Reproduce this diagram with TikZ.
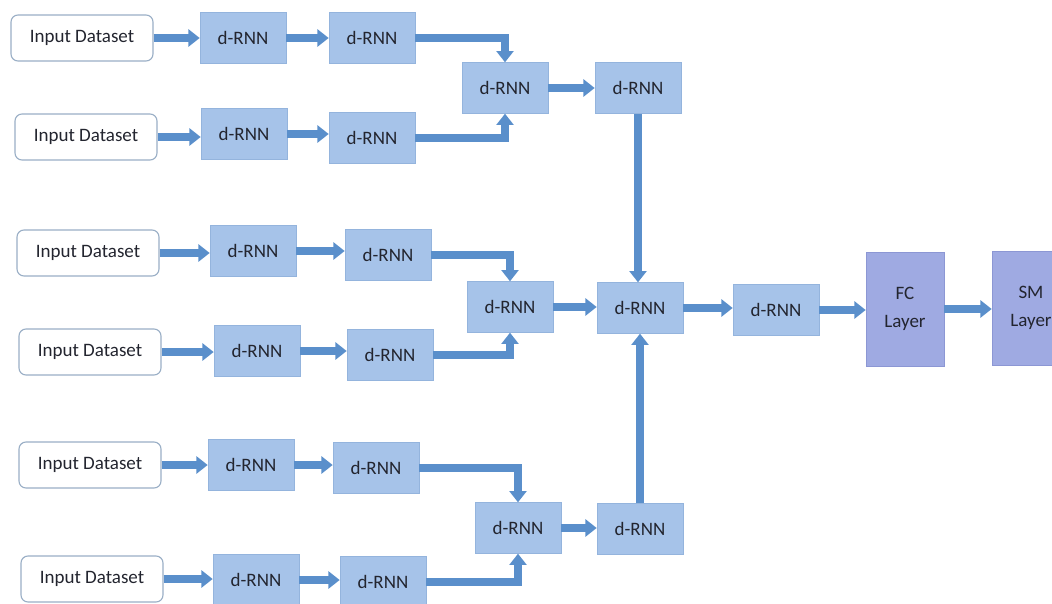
\documentclass[tikz,border=0pt]{standalone}
\usepackage{fontspec}
\setmainfont{Carlito}
\usetikzlibrary{arrows.meta}
\definecolor{flowblue}{HTML}{5A8FCB}
\definecolor{boxfill}{HTML}{A6C3E9}
\definecolor{boxline}{HTML}{94B4DD}
\definecolor{layerfill}{HTML}{9FAAE2}
\definecolor{layerline}{HTML}{8C97D4}
\definecolor{inline}{HTML}{9AAFC6}
\definecolor{txt}{HTML}{23252F}

\begin{document}
\begin{tikzpicture}[x=0.025cm, y=-0.025cm,
    every node/.style={font=\fontsize{13.5}{20}\selectfont, text=txt},
    dbox/.style={draw=boxline, fill=boxfill, minimum width=2.15cm, minimum height=1.27cm, inner sep=0pt},
    inbox/.style={draw=inline, fill=white, rounded corners=5pt, line width=0.8pt, minimum width=3.55cm, minimum height=1.15cm, inner sep=0pt},
    layerbox/.style={draw=layerline, fill=layerfill, minimum width=1.95cm, minimum height=2.85cm, inner sep=0pt, align=center},
    flow/.style={draw=flowblue, line width=5.5pt, -{Triangle[width=12pt,length=8pt]}}]
            \path[use as bounding box, clip] (0,0) rectangle (1052,604);
            % first pair
            \node[inbox] (in1) at (82,38) {Input Dataset};
            \node[dbox] (r1a) at (243,38) {d-RNN};
            \node[dbox] (r1b) at (372,38) {d-RNN};
            \node[inbox] (in2) at (86,137) {Input Dataset};
            \node[dbox] (r2a) at (244,134) {d-RNN};
            \node[dbox] (r2b) at (372,138) {d-RNN};
            \node[dbox] (mA) at (505,88) {d-RNN};
            \node[dbox] (tA) at (638,88) {d-RNN};
            % second pair
            \node[inbox] (in3) at (88,253) {Input Dataset};
            \node[dbox] (r3a) at (253,251) {d-RNN};
            \node[dbox] (r3b) at (388,255) {d-RNN};
            \node[inbox] (in4) at (90,352) {Input Dataset};
            \node[dbox] (r4a) at (257,351) {d-RNN};
            \node[dbox] (r4b) at (390,355) {d-RNN};
            \node[dbox] (mB) at (510,307) {d-RNN};
            \node[dbox] (ctr) at (640,308) {d-RNN};
            \node[dbox] (nx) at (776,310) {d-RNN};
            \node[layerbox] (fc) at (905,309) {FC\\Layer};
            \node[layerbox] (sm) at (1031,308) {SM\\Layer};
            % third pair
            \node[inbox] (in5) at (90,465) {Input Dataset};
            \node[dbox] (r5a) at (251,465) {d-RNN};
            \node[dbox] (r5b) at (376,468) {d-RNN};
            \node[inbox] (in6) at (92,579) {Input Dataset};
            \node[dbox] (r6a) at (256,580) {d-RNN};
            \node[dbox] (r6b) at (383,582) {d-RNN};
            \node[dbox] (mC) at (518,528) {d-RNN};
            \node[dbox] (bC) at (640,529) {d-RNN};
            % straight arrows
            \foreach \a/\b in {in1/r1a, r1a/r1b, in2/r2a, r2a/r2b, mA/tA,
                               in3/r3a, r3a/r3b, in4/r4a, r4a/r4b, mB/ctr, ctr/nx, nx/fc, fc/sm,
                               in5/r5a, r5a/r5b, in6/r6a, r6a/r6b, mC/bC}
                \draw[flow] (\a.east) -- (\a.east -| \b.west);
            % joins
            \draw[flow] (r1b.east) -| (mA.north);
            \draw[flow] (r2b.east) -| (mA.south);
            \draw[flow] (r3b.east) -| (mB.north);
            \draw[flow] (r4b.east) -| (mB.south);
            \draw[flow] (r5b.east) -| (mC.north);
            \draw[flow] (r6b.east) -| (mC.south);
            \draw[flow] (tA.south) -- (tA.south |- ctr.north);
            \draw[flow] (bC.north) -- (bC.north |- ctr.south);
            \end{tikzpicture}
\end{document}
